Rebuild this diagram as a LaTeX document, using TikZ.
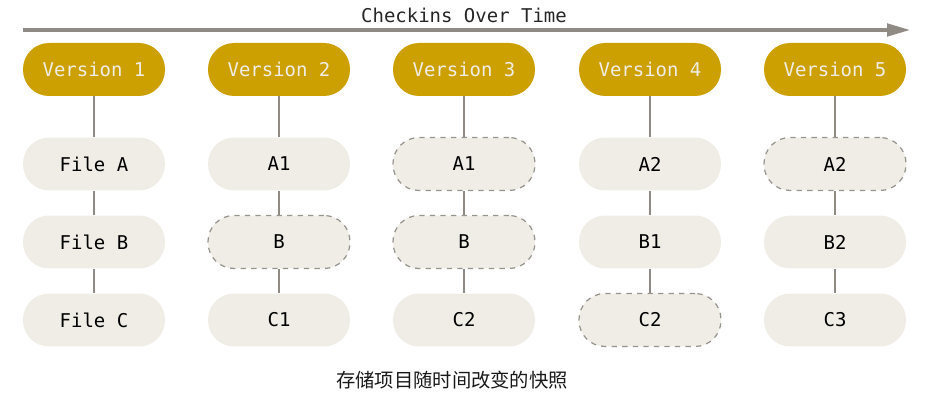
\documentclass[tikz,border=0pt]{standalone}
\usepackage{fontspec}
\setmonofont{DejaVu Sans Mono}
\newfontfamily\cjk{Noto Sans CJK SC}
\usetikzlibrary{arrows.meta}

\definecolor{vgold}{HTML}{CCA000}
\definecolor{fgray}{HTML}{EFEDE6}
\definecolor{lgray}{HTML}{8F8A84}
\definecolor{dgray}{HTML}{97948E}

\begin{document}
\begin{tikzpicture}[x=0.02cm, y=-0.02cm,
    box/.style={rounded corners=0.52cm, minimum width=2.84cm, minimum height=1.06cm,
        inner sep=0pt, font=\ttfamily\fontsize{10.8}{13}\selectfont},
    version/.style={box, fill=vgold, text=fgray},
    file/.style={box, fill=fgray, text=black},
    changed/.style={file, draw=dgray, dashed, line width=0.7pt},
    link/.style={draw=lgray, line width=0.6pt}]
    \useasboundingbox (0,0) rectangle (935,401);

    \coordinate (tstart) at (23,30);
    \coordinate (tend) at (910,30);
    \draw[lgray, line width=1.9pt, -{Triangle[length=0.46cm, width=0.25cm]}] (tstart) -- (tend);
    \node[font=\ttfamily\fontsize{10.8}{13}\selectfont, text=black!85] (title) at (464,15) {Checkins Over Time};

    \foreach \i/\x/\a/\sa/\b/\sb/\c/\sc in {
        1/94/File A/file/File B/file/File C/file,
        2/279/A1/file/B/changed/C1/file,
        3/464/A1/changed/B/changed/C2/file,
        4/650/A2/file/B1/file/C2/changed,
        5/835/A2/changed/B2/file/C3/file} {
        \node[version] (v\i) at (\x,69.5) {Version \i};
        \node[\sa] (a\i) at (\x,164) {\a};
        \node[\sb] (b\i) at (\x,242) {\b};
        \node[\sc] (c\i) at (\x,320) {\c};
        \draw[link] (v\i) -- (a\i) (a\i) -- (b\i) (b\i) -- (c\i);
    }

    \node[font=\cjk\fontsize{11}{13}\selectfont, text=black!90] (caption) at (452,380) {存储项目随时间改变的快照};
\end{tikzpicture}
\end{document}
